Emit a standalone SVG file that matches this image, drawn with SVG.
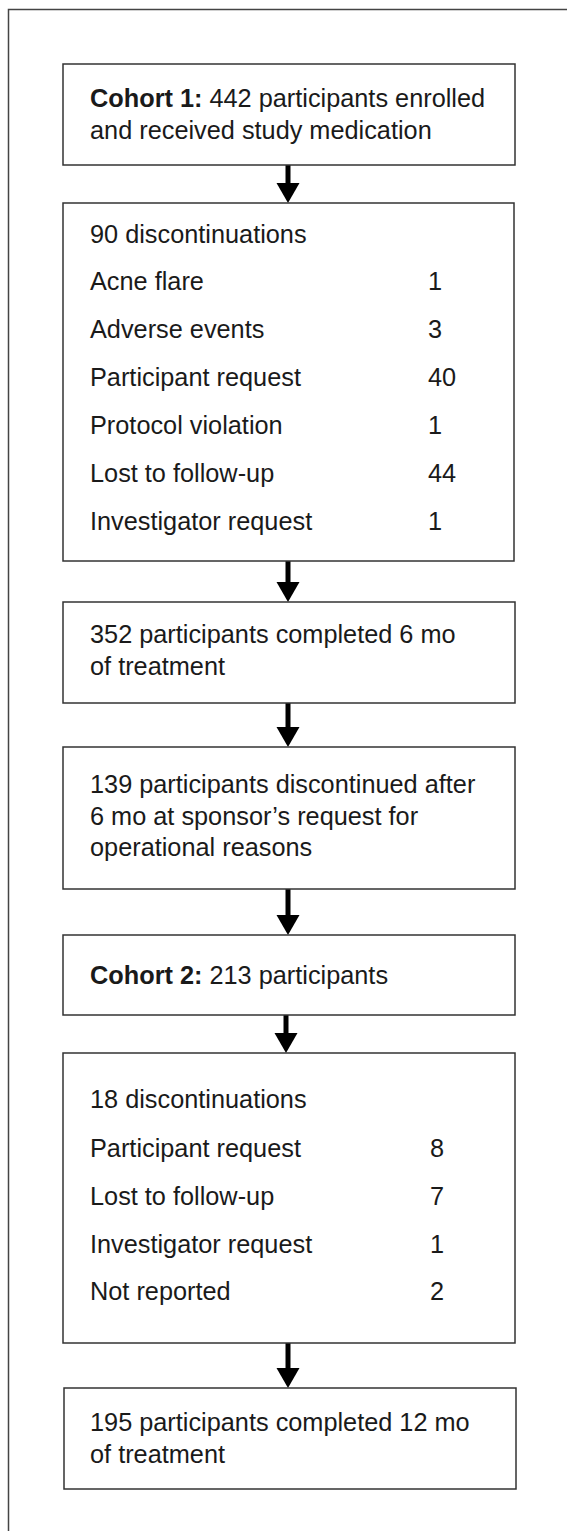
<svg xmlns="http://www.w3.org/2000/svg" width="567" height="1531" viewBox="0 0 567 1531">
<style>
.box{fill:#fff;stroke:#333;stroke-width:1.5}
.t{font-family:"Liberation Sans",Arial,sans-serif;font-size:25.3px;fill:#1a1a1a}
.b{font-weight:bold}
.shaft{stroke:#000;stroke-width:5;fill:none}
.head{fill:#000}
</style>
<defs>
<path id="ah" d="M-11.5,-20 L11.5,-20 L0,0 Z"/>
</defs>
<rect width="567" height="1531" fill="#fff"/>
<path d="M8.5,1531 V9.5 H567" fill="none" stroke="#444" stroke-width="1.5"/>
<g id="connectors">
<line class="shaft" x1="288" y1="165" x2="288" y2="185"/><use href="#ah" class="head" x="288" y="203"/>
<line class="shaft" x1="288" y1="561" x2="288" y2="584"/><use href="#ah" class="head" x="288" y="602"/>
<line class="shaft" x1="288" y1="703" x2="288" y2="729"/><use href="#ah" class="head" x="288" y="747"/>
<line class="shaft" x1="288" y1="889" x2="288" y2="917"/><use href="#ah" class="head" x="288" y="935"/>
<line class="shaft" x1="286" y1="1015" x2="286" y2="1035"/><use href="#ah" class="head" x="286" y="1053"/>
<line class="shaft" x1="288" y1="1343" x2="288" y2="1370"/><use href="#ah" class="head" x="288" y="1388"/>
</g>
<g id="n1">
<rect class="box" x="63" y="64" width="452" height="101"/>
<text class="t" x="90" y="107"><tspan class="b">Cohort 1:</tspan> 442 participants enrolled</text>
<text class="t" x="90" y="139">and received study medication</text>
</g>
<g id="n2">
<rect class="box" x="63" y="203" width="451" height="358"/>
<text class="t" x="90" y="243">90 discontinuations</text>
<text class="t" x="90" y="290">Acne flare</text><text class="t" x="428" y="290">1</text>
<text class="t" x="90" y="338">Adverse events</text><text class="t" x="428" y="338">3</text>
<text class="t" x="90" y="386">Participant request</text><text class="t" x="428" y="386">40</text>
<text class="t" x="90" y="434">Protocol violation</text><text class="t" x="428" y="434">1</text>
<text class="t" x="90" y="482">Lost to follow-up</text><text class="t" x="428" y="482">44</text>
<text class="t" x="90" y="530">Investigator request</text><text class="t" x="428" y="530">1</text>
</g>
<g id="n3">
<rect class="box" x="63" y="602" width="452" height="101"/>
<text class="t" x="90" y="643">352 participants completed 6 mo</text>
<text class="t" x="90" y="675">of treatment</text>
</g>
<g id="n4">
<rect class="box" x="63" y="747" width="452" height="142"/>
<text class="t" x="90" y="793">139 participants discontinued after</text>
<text class="t" x="90" y="825">6 mo at sponsor’s request for</text>
<text class="t" x="90" y="856">operational reasons</text>
</g>
<g id="n5">
<rect class="box" x="63" y="935" width="452" height="80"/>
<text class="t" x="90" y="984"><tspan class="b">Cohort 2:</tspan> 213 participants</text>
</g>
<g id="n6">
<rect class="box" x="63" y="1053" width="452" height="290"/>
<text class="t" x="90" y="1108">18 discontinuations</text>
<text class="t" x="90" y="1157">Participant request</text><text class="t" x="430" y="1157">8</text>
<text class="t" x="90" y="1205">Lost to follow-up</text><text class="t" x="430" y="1205">7</text>
<text class="t" x="90" y="1253">Investigator request</text><text class="t" x="430" y="1253">1</text>
<text class="t" x="90" y="1300">Not reported</text><text class="t" x="430" y="1300">2</text>
</g>
<g id="n7">
<rect class="box" x="64" y="1388" width="452" height="101"/>
<text class="t" x="90" y="1431">195 participants completed 12 mo</text>
<text class="t" x="90" y="1463">of treatment</text>
</g>
</svg>
